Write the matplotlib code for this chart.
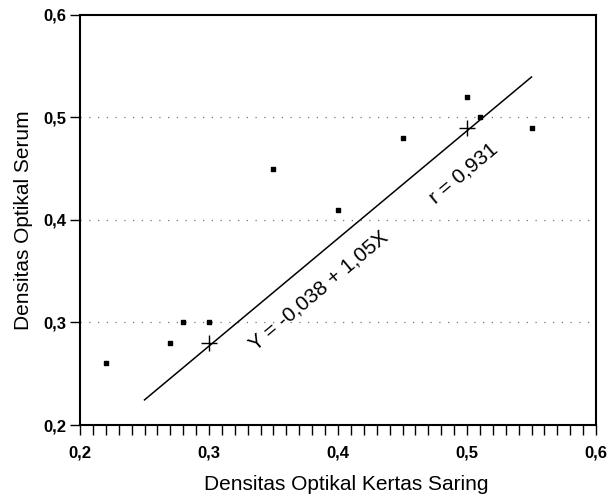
import numpy as np
import matplotlib
matplotlib.use('Agg')
import matplotlib.pyplot as plt
from matplotlib.ticker import MultipleLocator, FuncFormatter

## Data
kertas = [0.22, 0.27, 0.28, 0.30, 0.35, 0.40, 0.45, 0.50, 0.51, 0.55]
serum = [0.26, 0.28, 0.30, 0.30, 0.45, 0.41, 0.48, 0.52, 0.50, 0.49]
cross_x = [0.30, 0.50]
cross_y = [0.28, 0.49]
intercept = -0.038
slope = 1.05
fit_range = [0.25, 0.55]
grid_levels = [0.3, 0.4, 0.5]

plt.rcParams['font.family'] = ['Liberation Sans', 'DejaVu Sans']

fig = plt.figure(figsize=(6.13, 4.98), dpi=100)
ax = fig.add_axes([80/613, 1-425/498, (596-80)/613, (425-15)/498])

for g in grid_levels:
	ax.axhline(g, color='#777777', lw=0.9, ls=(0, (1, 6)), zorder=1)

ax.scatter(kertas, serum, marker='s', s=9, color='black', zorder=3)
ax.plot(cross_x, cross_y, '+', color='black', ms=11, mew=1.0, zorder=3)

fx = np.array(fit_range)
ax.plot(fx, intercept + slope*fx, color='black', lw=1.1, zorder=2)

ax.text(0.385, 0.331, 'Y = -0,038 + 1,05X', rotation=40, ha='center', va='center',
	rotation_mode='anchor', fontsize=15)
ax.text(0.497, 0.446, 'r = 0,931', rotation=40, ha='center', va='center',
	rotation_mode='anchor', fontsize=15)

ax.set_xlim(0.2, 0.6)
ax.set_ylim(0.2, 0.6)
ax.xaxis.set_major_locator(MultipleLocator(0.1))
ax.xaxis.set_minor_locator(MultipleLocator(0.01))
ax.yaxis.set_major_locator(MultipleLocator(0.1))
comma = FuncFormatter(lambda v, p: ('%.1f' % v).replace('.', ','))
ax.xaxis.set_major_formatter(comma)
ax.yaxis.set_major_formatter(comma)

ax.tick_params(axis='x', which='both', direction='out', length=7, width=1, pad=8)
ax.tick_params(axis='y', which='major', direction='out', length=7, width=1, pad=3)
for lab in ax.get_xticklabels() + ax.get_yticklabels():
	lab.set_fontweight('bold')
	lab.set_fontsize(12)

for s in ax.spines.values():
	s.set_linewidth(1.5)

ax.set_xlabel('Densitas Optikal Kertas Saring', fontsize=15)
ax.set_ylabel('Densitas Optikal Serum', fontsize=15)
ax.xaxis.set_label_coords((346-80)/516, -(475-425)/410)
ax.yaxis.set_label_coords(-(80-33)/516, (425-220)/410)

fig.savefig('out.png', dpi=100)
